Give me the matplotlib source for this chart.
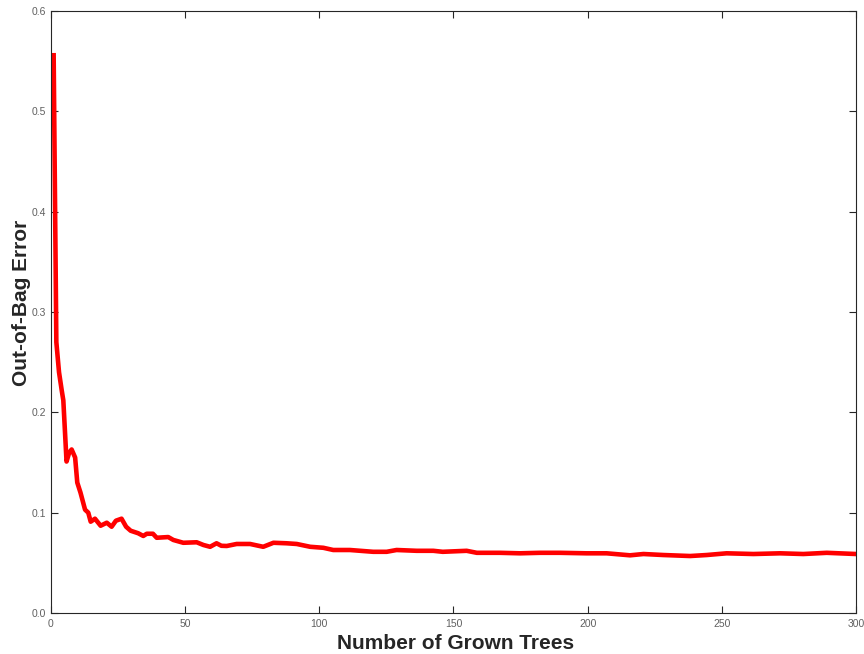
import matplotlib
matplotlib.use("Agg")
import matplotlib.pyplot as plt

# values
num_trees = [1, 2, 3, 4, 4.6, 5.8, 6.8, 7.7, 9, 9.8, 11, 12.7, 13.9, 14.8, 16.4,
             18.5, 20.8, 22.6, 24.2, 26.3, 28, 29.7, 32.5, 34.4, 35.7, 38,
             39.4, 43.7, 45.6, 49.3, 54.3, 56.8, 59.3, 61.7, 63.5, 65.5,
             69.2, 74.2, 79.1, 82.9, 87.8, 91.6, 96.6, 101.5, 105.2, 111.4,
             120.1, 125.1, 128.8, 136.3, 142.5, 146, 154.9, 158.7, 167.3,
             174.8, 182.2, 189.7, 199.6, 207.1, 215.8, 220.8, 228.2, 238.2,
             244.4, 251.8, 261.8, 271.7, 280.4, 289.1, 300]
oob_error = [0.556, 0.27, 0.24, 0.222, 0.212, 0.151, 0.160, 0.163, 0.155, 0.13,
             0.12, 0.103, 0.100, 0.091, 0.094, 0.087, 0.090, 0.086, 0.092,
             0.094, 0.086, 0.082, 0.0795, 0.0768, 0.079, 0.079, 0.075, 0.0757,
             0.0728, 0.070, 0.0705, 0.0678, 0.066, 0.0695, 0.067, 0.0668,
             0.0688, 0.0688, 0.066, 0.070, 0.0695, 0.0688, 0.066, 0.065,
             0.0628, 0.0628, 0.061, 0.061, 0.0628, 0.062, 0.062, 0.061, 0.062,
             0.060, 0.060, 0.0595, 0.060, 0.060, 0.0595, 0.0595, 0.0575,
             0.0588, 0.0578, 0.0568, 0.0578, 0.0595, 0.0588, 0.0595, 0.0588,
             0.060, 0.0588]

x_ticks = [0, 50, 100, 150, 200, 250, 300]
y_ticks = [0.0, 0.1, 0.2, 0.3, 0.4, 0.5, 0.6]

plt.rcParams["font.family"] = ["Liberation Sans", "DejaVu Sans"]

fig = plt.figure(figsize=(8.64, 6.54), dpi=100)
ax = fig.add_axes([0.059, 0.0627, 0.9317, 0.9203])

ax.plot(num_trees, oob_error, color="red", linewidth=3.3, solid_joinstyle="round")

ax.set_xlim(0, 300)
ax.set_ylim(0, 0.6)
ax.set_xticks(x_ticks)
ax.set_yticks(y_ticks)
ax.set_yticklabels([f"{v:.1f}" for v in y_ticks])
ax.tick_params(direction="in", length=5, width=0.8, colors="#262626",
               labelcolor="#606060", labelsize=7.5, top=True, right=True)
ax.tick_params(axis="x", pad=4)
for s in ax.spines.values():
    s.set_color("#262626")
    s.set_linewidth(0.8)

ax.set_xlabel("Number of Grown Trees", fontsize=15, fontweight="bold", color="#262626")
ax.set_ylabel("Out-of-Bag Error", fontsize=15, fontweight="bold", color="#262626")
ax.xaxis.set_label_coords(0.502, -0.051)
ax.yaxis.set_label_coords(-0.036, 0.515)
ax.xaxis.label.set_va("center")
ax.yaxis.label.set_va("center")

fig.savefig("out.png", dpi=100)
